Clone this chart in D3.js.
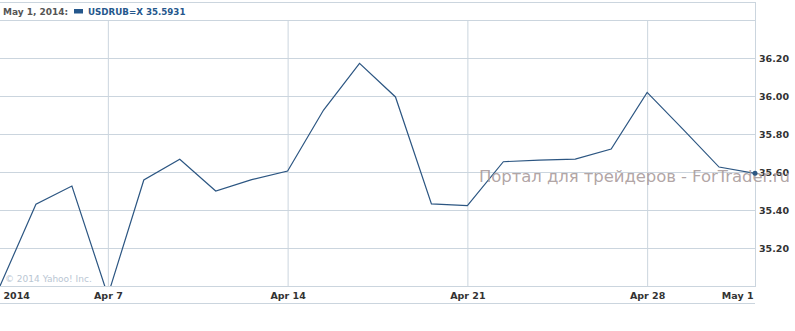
<!DOCTYPE html>
<html>
<head>
<meta charset="utf-8">
<script src="https://cdn.jsdelivr.net/npm/d3@7"></script>
<style>
  body { margin: 0; background: #fff; }
  svg { display: block; }
  .lbl { font-family: "DejaVu Sans", Verdana, sans-serif; font-weight: bold; }
</style>
</head>
<body>
<div id="chart"></div>
<script>
// trading days shown on the chart
const dayLabels = ["Apr 2", "Apr 3", "Apr 4", "Apr 7", "Apr 8", "Apr 9", "Apr 10", "Apr 11",
    "Apr 14", "Apr 15", "Apr 16", "Apr 17", "Apr 18", "Apr 21", "Apr 22", "Apr 23",
    "Apr 24", "Apr 25", "Apr 28", "Apr 29", "Apr 30", "May 1"];
const rubValues = [35.00, 35.43, 35.526, 34.95, 35.558, 35.667, 35.50, 35.56,
    35.605, 35.926, 36.172, 35.995, 35.432, 35.423, 35.654, 35.663,
    35.668, 35.721, 36.019, 35.824, 35.626, 35.5931];
const xTickIdx = [0, 3, 8, 13, 18, 21];
const xTickText = ["2014", "Apr 7", "Apr 14", "Apr 21", "Apr 28", "May 1"];
const yTicks = [35.2, 35.4, 35.6, 35.8, 36.0, 36.2];

const width = 795, height = 331;
const plot = { left: 0, right: 755, top: 20, bottom: 286 };
const gridColor = "#cbd5de";

const svg = d3.select("#chart").append("svg")
    .attr("width", width)
    .attr("height", height);

const x = d3.scaleLinear()
    .domain([0, dayLabels.length - 1])
    .range([plot.left, plot.right]);

const y = d3.scaleLinear()
    .domain([35.0, 36.4])
    .range([plot.bottom, plot.top]);

// horizontal grid + right labels
const yAxis = svg.append("g")
    .attr("transform", `translate(${plot.right},0)`)
    .call(d3.axisRight(y).tickValues(yTicks).tickSize(-(plot.right - plot.left)).tickPadding(4)
        .tickFormat(d3.format(".2f")));
yAxis.select(".domain").remove();
yAxis.selectAll("line").attr("stroke", gridColor);
yAxis.selectAll("text")
    .attr("class", "lbl")
    .attr("font-size", 9.5)
    .attr("fill", "#333");

// vertical grid
const xGrid = svg.append("g")
    .attr("transform", `translate(0,${plot.bottom})`)
    .call(d3.axisBottom(x).tickValues(xTickIdx.slice(1, -1)).tickSize(-(plot.bottom - plot.top)).tickFormat(""));
xGrid.select(".domain").remove();
xGrid.selectAll("line").attr("stroke", gridColor);

// frame
svg.append("line").attr("x1", 0).attr("x2", plot.right).attr("y1", 2.5).attr("y2", 2.5).attr("stroke", gridColor);
svg.append("line").attr("x1", 0).attr("x2", plot.right).attr("y1", plot.top + 0.5).attr("y2", plot.top + 0.5).attr("stroke", gridColor);
svg.append("line").attr("x1", 0).attr("x2", plot.right).attr("y1", plot.bottom + 0.5).attr("y2", plot.bottom + 0.5).attr("stroke", gridColor);
svg.append("line").attr("x1", 0).attr("x2", plot.right).attr("y1", 303.5).attr("y2", 303.5).attr("stroke", gridColor);
svg.append("line").attr("x1", plot.right + 0.5).attr("x2", plot.right + 0.5).attr("y1", 2).attr("y2", plot.bottom + 1).attr("stroke", gridColor);

// x labels
const xAxis = svg.append("g")
    .attr("transform", `translate(0,${plot.bottom})`)
    .call(d3.axisBottom(x).tickValues(xTickIdx).tickSize(0).tickPadding(6)
        .tickFormat((d, i) => xTickText[i]));
xAxis.select(".domain").remove();
xAxis.selectAll("text")
    .attr("class", "lbl")
    .attr("font-size", 9.5)
    .attr("fill", "#333")
    .attr("text-anchor", (d, i) => i === 0 ? "start" : (i === xTickIdx.length - 1 ? "end" : "middle"))
    .attr("dx", (d, i) => i === 0 ? 3 : (i === xTickIdx.length - 1 ? -2 : 0));

// copyright
svg.append("text")
    .attr("x", 5)
    .attr("y", 282)
    .attr("font-family", "DejaVu Sans, Verdana, sans-serif")
    .attr("font-size", 9)
    .attr("fill", "#b9c6d3")
    .text("© 2014 Yahoo! Inc.");

// line
svg.append("clipPath").attr("id", "clip")
    .append("rect")
    .attr("x", plot.left).attr("y", plot.top)
    .attr("width", plot.right - plot.left).attr("height", plot.bottom - plot.top);

const line = d3.line()
    .x((d, i) => x(i))
    .y(d => y(d));

svg.append("path")
    .datum(rubValues)
    .attr("clip-path", "url(#clip)")
    .attr("fill", "none")
    .attr("stroke", "#2c5682")
    .attr("stroke-width", 1.2)
    .attr("d", line);

// watermark
svg.append("text")
    .attr("x", 479)
    .attr("y", 182)
    .attr("font-family", "DejaVu Sans, Verdana, sans-serif")
    .attr("font-size", 16.5)
    .attr("fill", "#a89a9a")
    .attr("fill-opacity", 0.9)
    .attr("textLength", 311)
    .text("Портал для трейдеров - ForTrader.ru");

svg.append("circle")
    .attr("cx", x(rubValues.length - 1))
    .attr("cy", y(rubValues[rubValues.length - 1]))
    .attr("r", 2.5)
    .attr("fill", "#2c5682");

// header
svg.append("text")
    .attr("class", "lbl")
    .attr("x", 3)
    .attr("y", 15)
    .attr("font-size", 9)
    .attr("fill", "#555")
    .text(`${dayLabels[dayLabels.length - 1]}, 2014:`);

svg.append("rect")
    .attr("x", 74).attr("y", 9)
    .attr("width", 9).attr("height", 4.5)
    .attr("fill", "#25578c");

svg.append("text")
    .attr("class", "lbl")
    .attr("x", 88)
    .attr("y", 15)
    .attr("font-size", 8.7)
    .attr("fill", "#25578c")
    .text(`USDRUB=X ${rubValues[rubValues.length - 1].toFixed(4)}`);
</script>
</body>
</html>
